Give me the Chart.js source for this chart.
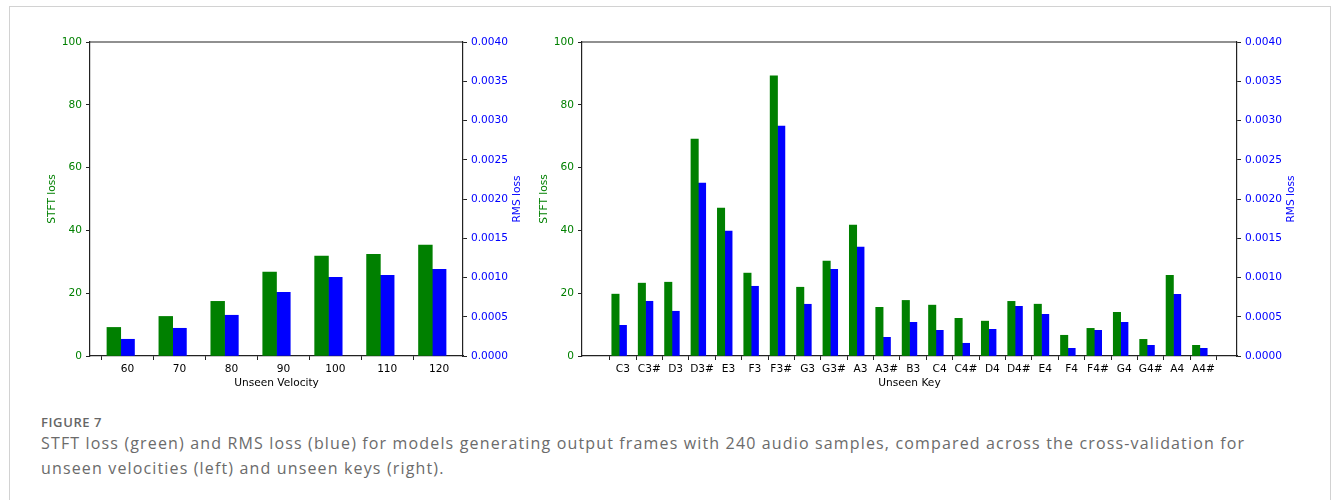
<!DOCTYPE html>
<html>
<head>
<meta charset="utf-8">
<script src="https://cdn.jsdelivr.net/npm/chart.js@4.4.1/dist/chart.umd.min.js"></script>
<style>
  body { margin: 0; background: #fff; }
  #frame { position: absolute; left: 9px; top: 6px; width: 1320px; height: 510px; border: 1px solid #d2d2d2; }
  .box { position: absolute; top: 30px; height: 370px; }
  #leftBox { left: 20px; width: 510px; }
  #rightBox { left: 530px; width: 774px; }
  #caption { position: absolute; left: 41px; top: 413px; font-family: "Open Sans", sans-serif; color: #6b6b6b; white-space: nowrap; }
  #caption .fig { font-size: 13px; font-weight: 600; color: #666; line-height: 18px; letter-spacing: 0.6px; }
  #caption .txt { font-size: 16px; line-height: 25px; letter-spacing: 1.15px; }
</style>
</head>
<body>
<div id="frame"></div>
<div class="box" id="leftBox"><canvas id="velChart"></canvas></div>
<div class="box" id="rightBox"><canvas id="keyChart"></canvas></div>
<div id="caption">
  <div class="fig">FIGURE 7</div>
  <div class="txt">STFT loss (green) and RMS loss (blue) for models generating output frames with 240 audio samples, compared across the cross-validation for<br>unseen velocities (left) and unseen keys (right).</div>
</div>
<script>
(() => {
    'use strict'

    // left panel: unseen velocity
    const velocities = [60, 70, 80, 90, 100, 110, 120]
    const velStft = [9.1, 12.6, 17.4, 26.7, 31.8, 32.4, 35.3]
    const velRms = [0.000213, 0.000353, 0.000519, 0.000812, 0.001003, 0.001029, 0.001105]

    // right panel: unseen key
    const keys = ['C3', 'C3#', 'D3', 'D3#', 'E3', 'F3', 'F3#', 'G3', 'G3#', 'A3', 'A3#', 'B3',
        'C4', 'C4#', 'D4', 'D4#', 'E4', 'F4', 'F4#', 'G4', 'G4#', 'A4', 'A4#']
    const keyStft = [19.7, 23.2, 23.5, 69.1, 47.1, 26.4, 89.2, 21.9, 30.2, 41.7, 15.5, 17.7,
        16.2, 12.0, 11.1, 17.4, 16.5, 6.6, 8.8, 13.9, 5.3, 25.7, 3.4]
    const keyRms = [0.000391, 0.000697, 0.000570, 0.002202, 0.001590, 0.000888, 0.002929, 0.000659, 0.001105, 0.001386, 0.000238, 0.000429,
        0.000327, 0.000162, 0.000340, 0.000633, 0.000531, 0.000098, 0.000327, 0.000429, 0.000136, 0.000786, 0.000098]

    const stftTicks = [0, 20, 40, 60, 80, 100]
    const rmsTicks = [0, 0.0005, 0.001, 0.0015, 0.002, 0.0025, 0.003, 0.0035, 0.004]

    const GREEN = '#008000'
    const BLUE = '#0000ff'
    const SPINE = '#222'

    Chart.defaults.font.family = 'DejaVu Sans'
    Chart.defaults.font.size = 10.6
    Chart.defaults.color = '#000'

    // matplotlib draws a full box and puts the right label bottom-to-top
    const frameAndRightTitle = {
        id: 'frameAndRightTitle',
        afterDraw(chart) {
            const { ctx, chartArea: a } = chart
            ctx.save()
            ctx.strokeStyle = SPINE
            ctx.lineWidth = 1.2
            ctx.beginPath()
            ctx.moveTo(a.left, a.top)
            ctx.lineTo(a.right, a.top)
            ctx.stroke()
            ctx.translate(a.right + 54, (a.top + a.bottom) / 2)
            ctx.rotate(-Math.PI / 2)
            ctx.fillStyle = BLUE
            ctx.font = '10.6px "DejaVu Sans"'
            ctx.textAlign = 'center'
            ctx.textBaseline = 'middle'
            ctx.fillText('RMS loss', 0, 0)
            ctx.restore()
        }
    }

    function makeChart(el, xs, labels, stft, rms, w, xTitle, padLeft) {
        const lo = xs[0] - 1.5 * w
        const hi = xs[xs.length - 1] + 0.5 * w
        const m = (hi - lo) * 0.05
        const tickStyle = { display: true, drawOnChartArea: false, drawTicks: true, tickLength: 4, color: SPINE }
        return new Chart(el, {
            type: 'bar',
            data: {
                datasets: [{
                    label: 'STFT loss',
                    data: xs.map((x, i) => ({ x: x - w, y: stft[i] })),
                    backgroundColor: GREEN,
                    yAxisID: 'y'
                }, {
                    label: 'RMS loss',
                    data: xs.map((x, i) => ({ x: x, y: rms[i] })),
                    backgroundColor: BLUE,
                    yAxisID: 'y1'
                }]
            },
            options: {
                responsive: true,
                maintainAspectRatio: false,
                animation: false,
                grouped: false,
                categoryPercentage: 1,
                barPercentage: 1,
                layout: { padding: { left: padLeft, top: 12, right: 0, bottom: 0 } },
                plugins: { legend: { display: false }, tooltip: { enabled: false } },
                scales: {
                    x: {
                        type: 'linear',
                        offset: false,
                        min: lo - m,
                        max: hi + m,
                        afterBuildTicks: (axis) => { axis.ticks = xs.map(v => ({ value: v })) },
                        afterFit: (axis) => { axis.height = 44 },
                        ticks: {
                            autoSkip: false,
                            maxRotation: 0,
                            padding: 3,
                            color: '#000',
                            callback: (v) => labels[xs.indexOf(v)]
                        },
                        grid: tickStyle,
                        border: { display: true, color: SPINE, width: 1.2 },
                        title: { display: true, text: xTitle, color: '#000', padding: { top: 0, bottom: 10 } }
                    },
                    y: {
                        position: 'left',
                        min: 0,
                        max: 100,
                        afterBuildTicks: (axis) => { axis.ticks = stftTicks.map(v => ({ value: v })) },
                        afterFit: (axis) => { axis.width = 49 },
                        ticks: { color: GREEN, padding: 4 },
                        grid: tickStyle,
                        border: { display: true, color: SPINE, width: 1.2 },
                        title: { display: true, text: 'STFT loss', color: GREEN, padding: { top: 5, bottom: 0 } }
                    },
                    y1: {
                        position: 'right',
                        min: 0,
                        max: 0.004,
                        afterBuildTicks: (axis) => { axis.ticks = rmsTicks.map(v => ({ value: v })) },
                        afterFit: (axis) => { axis.width = 67 },
                        ticks: { color: BLUE, padding: 4, callback: (v) => v.toFixed(4) },
                        grid: tickStyle,
                        border: { display: true, color: SPINE, width: 1.2 }
                    }
                }
            },
            plugins: [frameAndRightTitle]
        })
    }

    makeChart(document.getElementById('velChart'), velocities, velocities.map(String),
        velStft, velRms, 2.65, 'Unseen Velocity', 21)

    makeChart(document.getElementById('keyChart'), keys.map((k, i) => i), keys,
        keyStft, keyRms, 0.28, 'Unseen Key', 3)
})()
</script>
</body>
</html>
